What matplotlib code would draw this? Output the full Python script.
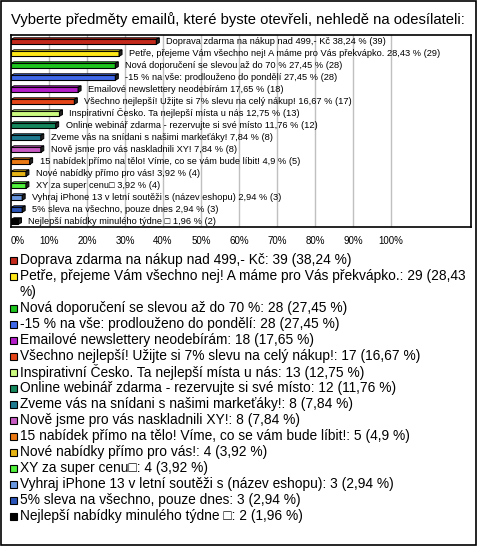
import textwrap
import matplotlib
matplotlib.use('Agg')
import matplotlib.pyplot as plt
from matplotlib.patches import Rectangle, Polygon

plt.rcParams['font.family'] = ['Liberation Sans', 'DejaVu Sans']

title = 'Vyberte předměty emailů, které byste otevřeli, nehledě na odesílateli:'

answers = [
    'Doprava zdarma na nákup nad 499,- Kč',
    'Petře, přejeme Vám všechno nej! A máme pro Vás překvápko.',
    'Nová doporučení se slevou až do 70 %',
    '-15 % na vše: prodlouženo do pondělí',
    'Emailové newslettery neodebírám',
    'Všechno nejlepší! Užijte si 7% slevu na celý nákup!',
    'Inspirativní Česko. Ta nejlepší místa u nás',
    'Online webinář zdarma - rezervujte si své místo',
    'Zveme vás na snídani s našimi markeťáky!',
    'Nově jsme pro vás naskladnili XY!',
    '15 nabídek přímo na tělo! Víme, co se vám bude líbit!',
    'Nové nabídky přímo pro vás!',
    'XY za super cenu\u25a1',
    'Vyhraj iPhone 13 v letní soutěži s (název eshopu)',
    '5% sleva na všechno, pouze dnes',
    'Nejlepší nabídky minulého týdne \u25a1',
]
counts = [39, 29, 28, 28, 18, 17, 13, 12, 8, 8, 5, 4, 4, 3, 3, 2]
percents = [38.24, 28.43, 27.45, 27.45, 17.65, 16.67, 12.75, 11.76,
            7.84, 7.84, 4.9, 3.92, 3.92, 2.94, 2.94, 1.96]
colors = ['#c42a1c', '#ffe81a', '#1ec41e', '#3f68e8', '#b41ec8', '#e4461a',
          '#ccfa80', '#15875c', '#1f7a90', '#c85ac4', '#ec7a14', '#e6b414',
          '#50f03c', '#6a98e0', '#2a54b8', '#000000']
xticks = [0, 10, 20, 30, 40, 50, 60, 70, 80, 90, 100]


def fmt(v):
    return ('%g' % v).replace('.', ',')


W, H = 480, 547
fig = plt.figure(figsize=(W / 100, H / 100), dpi=100)

# frame + title + legend in pixel coords
bg = fig.add_axes([0, 0, 1, 1])
bg.set_xlim(0, W)
bg.set_ylim(H, 0)
bg.axis('off')
bg.add_patch(Rectangle((1, 1), 475, 544, fill=False, edgecolor='black', lw=1.2))
bg.text(11, 20, title, fontsize=10.6, va='center', ha='left')

# bar chart
left, right, top, bottom = 11, 471, 35, 227
ax = fig.add_axes([left / W, 1 - bottom / H, (right - left) / W, (bottom - top) / H])
n = len(answers)
xmax = (right - left) / 38.0 * 10
ax.set_xlim(0, xmax)
ax.set_ylim(n - 0.5, -0.5)
for x in xticks[1:]:
    ax.axvline(x, color='#c0c0c0', lw=1, zorder=0)
ax.set_xticks(xticks)
ax.set_xticklabels(['%d%%' % x for x in xticks], fontsize=7)
ax.get_xticklabels()[0].set_horizontalalignment('left')
ax.tick_params(axis='x', length=0, pad=6.5)
ax.set_yticks([])
for s in ax.spines.values():
    s.set_linewidth(1.2)

px_x = xmax / (right - left)
px_y = n / (bottom - top)
dx, dy = 3 * px_x, 1.6 * px_y
bh = 0.4
for i, (v, c) in enumerate(zip(percents, colors)):
    y0, y1 = i - bh / 2 + dy / 2, i + bh / 2 + dy / 2
    ax.add_patch(Rectangle((0, y0), v, y1 - y0, facecolor=c, edgecolor='black', lw=0.8, zorder=3))
    ax.add_patch(Polygon([(0, y0), (v, y0), (v + dx, y0 - dy), (dx, y0 - dy)],
                         closed=True, facecolor=c, edgecolor='black', lw=0.7, zorder=3))
    ax.add_patch(Polygon([(v, y0), (v + dx, y0 - dy), (v + dx, y1 - dy), (v, y1)],
                         closed=True, facecolor='#222222', edgecolor='black', lw=0.7, zorder=3))
    ax.text(v + 2.6, i, '%s %s %% (%d)' % (answers[i], fmt(v), counts[i]),
            fontsize=6.7, va='center', ha='left', zorder=4)

# legend
ly = 260
for a, c, cnt, p in zip(answers, colors, counts, percents):
    lines = textwrap.wrap('%s: %d (%s %%)' % (a, cnt, fmt(p)), width=68)
    bg.add_patch(Rectangle((10, ly - 3.5), 7, 7, facecolor=c, edgecolor='black', lw=0.8))
    for ln in lines:
        bg.text(20, ly, ln, fontsize=9.9, va='center', ha='left')
        ly += 16

fig.savefig('out.png', dpi=100)
